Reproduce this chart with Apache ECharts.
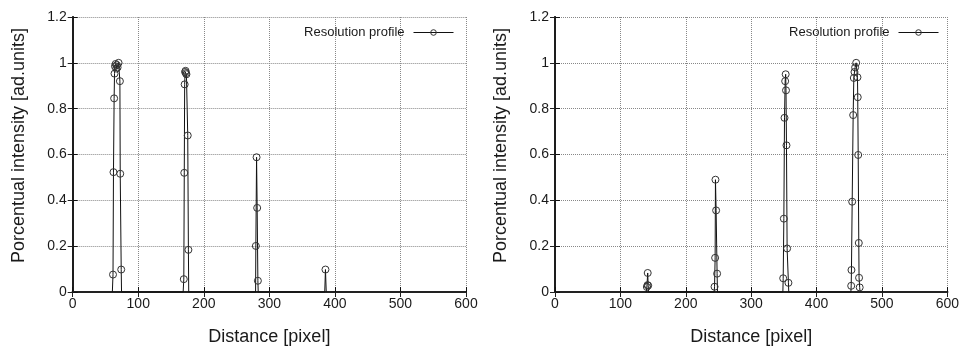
<!DOCTYPE html>
<html>
<head>
<meta charset="utf-8">
<script src="https://cdn.jsdelivr.net/npm/echarts@6/dist/echarts.min.js"></script>
<style>
  html, body { margin: 0; padding: 0; background: #fff; }
  #chart { width: 962px; height: 351px; }
</style>
</head>
<body>
<div id="chart"></div>
<script>
// Resolution profiles: intensity sampled along distance (pixel) for two images.
const seriesName = 'Resolution profile';
const xTicks = [0, 100, 200, 300, 400, 500, 600];
const yTicks = [0, 0.2, 0.4, 0.6, 0.8, 1.0, 1.2];

// Left panel profile
const leftDistance = [
  60.5, 61.5, 62.2, 63.2, 63.8, 64.5, 65.5, 66.5, 67.5, 68.5, 70, 72, 72.5, 74, 74.5,
  168.5, 169.5, 170.2, 170.8, 171.5, 172.2, 172.8, 173.5, 175.5, 176.5, 177,
  279, 279.4, 280.5, 281.4, 282.5, 283,
  384.5, 385.6, 386.8
];
const leftIntensity = [
  0, 0.076, 0.523, 0.845, 0.953, 0.985, 0.995, 0.975, 0.99, 0.98, 1.0, 0.92, 0.516, 0.098, 0,
  0, 0.056, 0.52, 0.906, 0.96, 0.965, 0.955, 0.95, 0.683, 0.184, 0,
  0, 0.201, 0.588, 0.367, 0.049, 0,
  0, 0.098, 0
];

// Right panel profile
const rightDistance = [
  139.5, 140.5, 141.5, 141.8, 142.5, 143,
  243.5, 244, 244.9, 245.4, 246.4, 247.9, 248.5,
  348.5, 349, 350, 351, 352, 352.8, 353.3, 354, 355, 357, 357.5,
  452.5, 453, 453.4, 454.5, 456, 457, 458, 459, 460.6, 462.6, 463, 463.7, 464.6, 465, 466, 466.5
];
const rightIntensity = [
  0, 0.022, 0.030, 0.083, 0.028, 0,
  0, 0.023, 0.149, 0.49, 0.356, 0.080, 0,
  0, 0.06, 0.32, 0.76, 0.92, 0.95, 0.88, 0.64, 0.19, 0.04, 0,
  0, 0.027, 0.096, 0.394, 0.772, 0.934, 0.96, 0.98, 1.0, 0.937, 0.85, 0.598, 0.214, 0.062, 0.02, 0
];

const FONT = '"Liberation Sans", Arial, Helvetica, sans-serif';
const TEXT = '#1a1a1a';

function points(xs, ys) {
  // baseline samples carry no marker
  return xs.map((x, i) => ys[i] === 0
    ? { value: [x, ys[i]], symbol: 'none' }
    : { value: [x, ys[i]] });
}

const grids = [
  { left: 72.7, right: 496, top: 17, bottom: 56 },
  { left: 555, right: 14, top: 17, bottom: 56 }
];

function mainX(gi) {
  return {
    type: 'value', gridIndex: gi, min: 0, max: 600, interval: 100,
    name: 'Distance [pixel]', nameLocation: 'middle', nameGap: 36,
    nameTextStyle: { fontFamily: FONT, fontSize: 18, color: TEXT },
    axisLine: { lineStyle: { color: '#111', width: 2 } },
    axisTick: { inside: true, length: 5, lineStyle: { color: '#111' } },
    axisLabel: { fontFamily: FONT, fontSize: 14, color: TEXT, margin: 5,
      formatter: v => xTicks.includes(v) ? String(v) : '' },
    splitLine: { show: true, lineStyle: { type: 'dotted', color: '#888', width: 1 } }
  };
}
function topX(gi) {
  return {
    type: 'value', gridIndex: gi, position: 'top', min: 0, max: 600, interval: 100,
    axisLine: { lineStyle: { color: '#222', width: 2 } },
    axisTick: { inside: true, length: 5, lineStyle: { color: '#222' } },
    axisLabel: { show: false }, splitLine: { show: false }
  };
}
function mainY(gi) {
  return {
    type: 'value', gridIndex: gi, min: 0, max: 1.2, interval: 0.2,
    name: 'Porcentual intensity [ad.units]', nameLocation: 'middle', nameGap: 45,
    nameTextStyle: { fontFamily: FONT, fontSize: 18, color: TEXT, padding: [0, 0, 0, 18] },
    axisLine: { show: true, lineStyle: { color: '#111', width: 2 } },
    axisTick: { show: true, inside: true, length: 5, lineStyle: { color: '#111' } },
    axisLabel: { fontFamily: FONT, fontSize: 14, color: TEXT, margin: 6,
      formatter: v => {
        const t = yTicks.find(k => Math.abs(k - v) < 1e-9);
        return t === undefined ? '' : String(+t.toFixed(1));
      } },
    splitLine: { show: true, lineStyle: { type: 'dotted', color: '#888', width: 1 } }
  };
}
function rightY(gi) {
  return {
    type: 'value', gridIndex: gi, position: 'right', min: 0, max: 1.2, interval: 0.2,
    axisLine: { show: true, lineStyle: { color: '#222', width: 1.5 } },
    axisTick: { show: true, inside: true, length: 5, lineStyle: { color: '#222' } },
    axisLabel: { show: false }, splitLine: { show: false }
  };
}

function profileSeries(xi, yi, xs, ys) {
  return {
    name: seriesName, type: 'line', xAxisIndex: xi, yAxisIndex: yi,
    data: points(xs, ys),
    symbol: 'circle', symbolSize: 7, showAllSymbol: true,
    lineStyle: { color: '#111', width: 1 },
    itemStyle: { color: 'rgba(255,255,255,0)', borderColor: '#333', borderWidth: 1 },
    emphasis: { disabled: true },
    animation: false, clip: false
  };
}

function legendAt(right) {
  return {
    right: right, top: 21, align: 'right', itemWidth: 40, itemHeight: 7, itemGap: 0,
    data: [seriesName], selectedMode: false,
    lineStyle: { width: 1, color: '#111' },
    itemStyle: { color: 'rgba(255,255,255,0)', borderColor: '#333', borderWidth: 1 },
    textStyle: { fontFamily: FONT, fontSize: 13, color: TEXT, padding: [0, 4, 0, 0] }
  };
}

const chart = echarts.init(document.getElementById('chart'), null, { renderer: 'canvas' });
chart.setOption({
  backgroundColor: '#fff',
  animation: false,
  grid: grids,
  legend: [legendAt(503), legendAt(18)],
  xAxis: [mainX(0), mainX(1), topX(0), topX(1)],
  yAxis: [mainY(0), mainY(1), rightY(0), rightY(1)],
  series: [
    profileSeries(0, 0, leftDistance, leftIntensity),
    profileSeries(1, 1, rightDistance, rightIntensity)
  ]
});
</script>
</body>
</html>
